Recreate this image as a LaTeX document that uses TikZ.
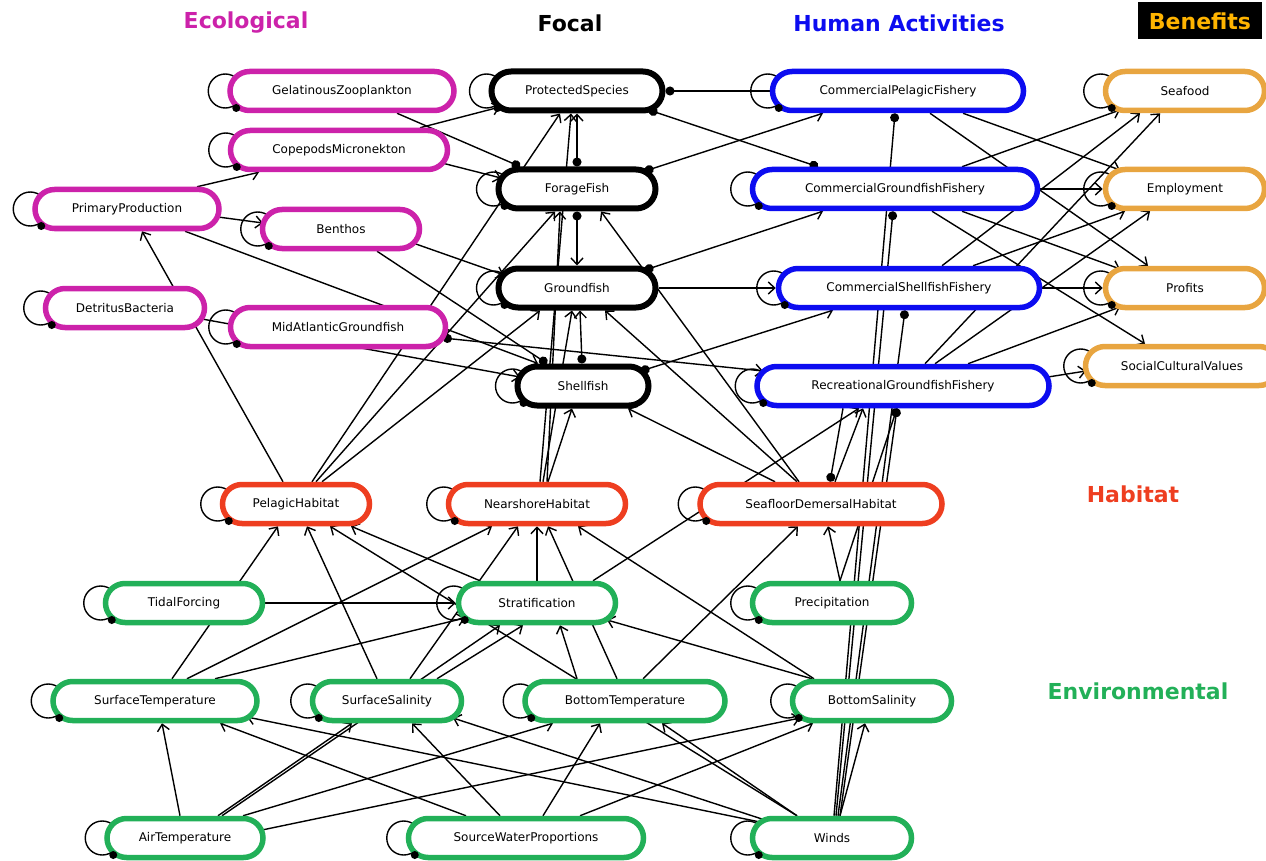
\documentclass[tikz,border=0pt]{standalone}
\usepackage{fontspec}
\setmainfont{DejaVu Sans}
\usetikzlibrary{shapes.misc,arrows.meta,backgrounds}
\definecolor{eco}{RGB}{204,34,170}
\definecolor{hum}{RGB}{12,12,240}
\definecolor{ben}{RGB}{232,165,64}
\definecolor{hab}{RGB}{238,62,32}
\definecolor{env}{RGB}{34,176,88}
\definecolor{bentitle}{RGB}{255,180,0}
\begin{document}
\begin{tikzpicture}[x=1pt,y=-1pt,
  box/.style={rounded rectangle, line width=5.5pt, fill=white, minimum height=39pt,
    inner xsep=4pt, inner ysep=2pt, font=\fontsize{12}{14}\selectfont},
  ecobox/.style={box, draw=eco},
  focbox/.style={box, draw=black, line width=6pt},
  humbox/.style={box, draw=hum},
  benbox/.style={box, draw=ben},
  habbox/.style={box, draw=hab},
  envbox/.style={box, draw=env},
  title/.style={font=\bfseries\fontsize{22}{26}\selectfont},
  posarr/.style={-{Straight Barb[length=6.5pt,width=12pt]}},
  negdot/.style={-{Circle[length=9pt]}},
  dotarr/.style={{Circle[length=9pt]}-{Straight Barb[length=6.5pt,width=12pt]}},
  dotstart/.style={{Circle[length=9pt]}-},
  dotdot/.style={{Circle[length=9pt]}-{Circle[length=9pt]}}]
\useasboundingbox (0,0) rectangle (1266,861);
\clip (0,0) rectangle (1266,861);

% group headings
\node[title, text=eco] (tEco) at (246,23) {Ecological};
\node[title, text=black] (tFoc) at (570,23) {Focal};
\node[title, text=hum] (tHum) at (899,23) {Human Activities};
\node[title, fill=black, text=bentitle, minimum width=124pt, minimum height=37pt, inner sep=0pt] (tBen) at (1200,21) {Benefits};
\node[title, text=hab] (tHab) at (1133,494) {Habitat};
\node[title, text=env] (tEnv) at (1138,691) {Environmental};

% ecological
\node[ecobox, minimum width=232pt] (GZ) at (342,91) {GelatinousZooplankton};
\node[ecobox, minimum width=225pt] (CM) at (339,150) {CopepodsMicronekton};
\node[ecobox, minimum width=192pt] (PP) at (127,209) {PrimaryProduction};
\node[ecobox, minimum width=165pt] (BE) at (341,229) {Benthos};
\node[ecobox, minimum width=167pt] (DB) at (125,308) {DetritusBacteria};
\node[ecobox, minimum width=223pt] (MA) at (338,327) {MidAtlanticGroundfish};
% focal
\node[focbox, minimum width=179pt] (PS) at (577,91) {ProtectedSpecies};
\node[focbox, minimum width=165pt] (FF) at (577,189) {ForageFish};
\node[focbox, minimum width=165pt] (GF) at (577,288) {Groundfish};
\node[focbox, minimum width=139pt] (SF) at (583,386) {Shellfish};
% human activities
\node[humbox, minimum width=259pt] (CPF) at (898,91) {CommercialPelagicFishery};
\node[humbox, minimum width=293pt] (CGF) at (895,189) {CommercialGroundfishFishery};
\node[humbox, minimum width=269pt] (CSF) at (909,288) {CommercialShellfishFishery};
\node[humbox, minimum width=300pt] (RGF) at (903,386) {RecreationalGroundfishFishery};
% benefits
\node[benbox, minimum width=167pt] (SEA) at (1185,91) {Seafood};
\node[benbox, minimum width=167pt] (EMP) at (1185,189) {Employment};
\node[benbox, minimum width=167pt] (PRO) at (1185,288) {Profits};
\node[benbox, minimum width=201pt] (SCV) at (1182,366) {SocialCulturalValues};
% habitat
\node[habbox, minimum width=155pt] (PH) at (296,504) {PelagicHabitat};
\node[habbox, minimum width=185pt] (NH) at (537,504) {NearshoreHabitat};
\node[habbox, minimum width=250pt] (SDH) at (821,504) {SeafloorDemersalHabitat};
% environmental
\node[envbox, minimum width=165pt] (TF) at (184,603) {TidalForcing};
\node[envbox, minimum width=165pt] (ST) at (537,603) {Stratification};
\node[envbox, minimum width=167pt] (PR) at (832,603) {Precipitation};
\node[envbox, minimum width=212pt] (STe) at (155,701) {SurfaceTemperature};
\node[envbox, minimum width=157pt] (SS) at (387,701) {SurfaceSalinity};
\node[envbox, minimum width=208pt] (BT) at (625,701) {BottomTemperature};
\node[envbox, minimum width=167pt] (BS) at (872,701) {BottomSalinity};
\node[envbox, minimum width=164pt] (AT) at (185,838) {AirTemperature};
\node[envbox, minimum width=243pt] (SWP) at (526,838) {SourceWaterProportions};
\node[envbox, minimum width=167pt] (WI) at (832,838) {Winds};

\begin{pgfonlayer}{background}
\begin{scope}[line width=1.4pt]
% self loops
\foreach \n in {GZ,CM,PP,BE,DB,MA,PS,FF,GF,SF,CPF,CGF,CSF,RGF,SEA,EMP,PRO,SCV,PH,NH,SDH,TF,ST,PR,STe,SS,BT,BS,AT,SWP,WI}
  \draw ([xshift=-2pt]\n.west) circle (17pt);

% ecological links
\draw[posarr] ([xshift=70pt]PP.north) -- ([xshift=-80pt]CM.south);
\draw[posarr] ([shift={(91,8)}]PP.center) -- ([shift={(-78,-6)}]BE.center);
\draw[posarr] ([xshift=-13pt]PH.north) -- ([xshift=15pt]PP.south);
\draw[posarr] ([xshift=58pt]PP.south) -- ([xshift=-45pt]SF.north);
\draw[negdot] ([xshift=36pt]BE.south) -- ([xshift=-36pt]SF.north);
\draw[posarr] ([shift={(77,11)}]DB.center) -- ([shift={(-63,-9)}]SF.center);
\draw[posarr] ([shift={(72,14)}]BE.center) -- ([shift={(-73,-13)}]GF.center);
\draw[posarr] ([shift={(103,13)}]CM.center) -- ([shift={(-76,-11)}]FF.center);
\draw[posarr] ([xshift=81pt]CM.north) -- ([shift={(-77,16)}]PS.center);
\draw[negdot] ([xshift=55pt]GZ.south) -- ([xshift=-57pt]FF.north);
\draw[dotarr] ([shift={(105,11)}]MA.center) -- ([shift={(-140,-15)}]RGF.center);

% focal links
\draw[dotarr] (FF.north) -- (PS.south);
\draw[dotarr] (FF.south) -- (GF.north);
\draw[dotarr] ([xshift=-1pt]SF.north) -- ([xshift=3pt]GF.south);
\draw[posarr] ([xshift=3pt]NH.north) -- ([xshift=-6pt]PS.south);
\draw[posarr] ([xshift=10pt]NH.north) -- ([xshift=-17pt]FF.south);
\draw[posarr] ([xshift=6pt]NH.north) -- ([xshift=-5pt]GF.south);
\draw[posarr] ([xshift=11pt]NH.north) -- ([xshift=-11pt]SF.south);
\draw[posarr] ([xshift=16pt]PH.north) -- ([xshift=-17pt]PS.south);
\draw[posarr] ([xshift=20pt]PH.north) -- ([xshift=-22pt]FF.south);
\draw[posarr] ([xshift=26pt]PH.north) -- ([xshift=-37pt]GF.south);
\draw[posarr] ([xshift=-24pt]SDH.north) -- ([xshift=28pt]GF.south);
\draw[posarr] ([xshift=-46pt]SDH.north) -- ([xshift=45pt]SF.south);
\draw[posarr] ([xshift=-22pt]SDH.north) -- ([xshift=24pt]FF.south);

% fisheries and focal groups
\draw[dotstart] (PS.east) -- (CPF.west);
\draw[dotdot] ([shift={(72,19)}]PS.center) -- ([xshift=-77pt]CGF.north);
\draw[dotarr] ([shift={(68,-18)}]FF.center) -- ([xshift=-75pt]CPF.south);
\draw[dotarr] ([shift={(68,-18)}]GF.center) -- ([xshift=-72pt]CGF.south);
\draw[posarr] (GF.east) -- (CSF.west);
\draw[dotarr] ([shift={(58,-15)}]SF.center) -- ([xshift=-76pt]CSF.south);

% fisheries and benefits
\draw[posarr] ([xshift=65pt]CPF.south) -- ([shift={(-65,-19)}]EMP.center);
\draw[posarr] ([xshift=32pt]CPF.south) -- ([xshift=-37pt]PRO.north);
\draw[posarr] ([xshift=67pt]CGF.north) -- ([shift={(-65,19)}]SEA.center);
\draw[posarr] (CGF.east) -- (EMP.west);
\draw[posarr] ([xshift=67pt]CGF.south) -- ([shift={(-65,-19)}]PRO.center);
\draw[posarr] ([xshift=37pt]CGF.south) -- ([xshift=-37pt]SCV.north);
\draw[posarr] ([xshift=33pt]CSF.north) -- ([xshift=-45pt]SEA.south);
\draw[posarr] ([xshift=64pt]CSF.north) -- ([xshift=-60pt]EMP.south);
\draw[posarr] (CSF.east) -- (PRO.west);
\draw[posarr] ([xshift=22pt]RGF.north) -- ([xshift=-25pt]SEA.south);
\draw[posarr] ([xshift=32pt]RGF.north) -- ([xshift=-35pt]EMP.south);
\draw[posarr] ([xshift=65pt]RGF.north) -- ([shift={(-65,19)}]PRO.center);
\draw[posarr] ([shift={(145,-9)}]RGF.center) -- ([shift={(-96,5)}]SCV.center);

% weather, habitat and fisheries
\draw[negdot] ([xshift=2pt]WI.north) -- ([xshift=-3pt]CPF.south);
\draw[negdot] ([xshift=4pt]WI.north) -- ([xshift=-2pt]CGF.south);
\draw[negdot] ([xshift=6pt]WI.north) -- ([xshift=-4pt]CSF.south);
\draw[negdot] ([xshift=8pt]WI.north) -- ([xshift=-6pt]RGF.south);
\draw[negdot] ([xshift=8pt]PR.north) -- ([xshift=-6pt]RGF.south);
\draw[negdot] ([xshift=-60pt]RGF.south) -- ([xshift=9pt]SDH.north);
\draw[posarr] ([xshift=14pt]SDH.north) -- ([xshift=-40pt]RGF.south);
\draw[posarr] ([xshift=56pt]ST.north) -- ([xshift=-44pt]RGF.south);
\draw[posarr] ([xshift=8pt]PR.north) -- ([xshift=7pt]SDH.south);

% environmental drivers
\draw[posarr] ([xshift=17pt]STe.north) -- ([xshift=-18pt]PH.south);
\draw[posarr] ([xshift=32pt]STe.north) -- ([xshift=-45pt]NH.south);
\draw[posarr] ([xshift=60pt]STe.north) -- ([shift={(-72,15)}]ST.center);
\draw[posarr] (TF.east) -- (ST.west);
\draw[posarr] ([xshift=-10pt]SS.north) -- ([xshift=11pt]PH.south);
\draw[posarr] ([xshift=23pt]SS.north) -- ([xshift=-19pt]NH.south);
\draw[posarr] ([xshift=50pt]SS.north) -- ([xshift=-14pt]ST.south);
\draw[posarr] ([xshift=-5pt]AT.north) -- ([xshift=7pt]STe.south);
\draw[posarr] ([xshift=33pt]AT.north) -- ([xshift=-35pt]SS.south);
\draw[posarr] ([xshift=37pt]AT.north) -- ([xshift=-37pt]ST.south);
\draw[posarr] ([xshift=58pt]AT.north) -- ([xshift=-72pt]BT.south);
\draw[posarr] ([shift={(77,-8)}]AT.center) -- ([shift={(-72,17)}]BS.center);
\draw[posarr] ([xshift=-60pt]SWP.north) -- ([xshift=65pt]STe.south);
\draw[posarr] ([xshift=-26pt]SWP.north) -- ([xshift=25pt]SS.south);
\draw[posarr] ([xshift=17pt]SWP.north) -- ([xshift=-25pt]BT.south);
\draw[posarr] ([xshift=54pt]SWP.north) -- ([xshift=-59pt]BS.south);
\draw[posarr] ([shift={(-72,-16)}]WI.center) -- ([shift={(92,16)}]STe.center);
\draw[posarr] ([shift={(-67,-18)}]WI.center) -- ([shift={(66,17)}]SS.center);
\draw[posarr] ([xshift=-35pt]WI.north) -- ([xshift=37pt]BT.south);
\draw[posarr] ([xshift=8pt]WI.north) -- ([xshift=-7pt]BS.south);
\draw[posarr] ([xshift=-35pt]WI.north) -- ([xshift=34pt]PH.south);
\draw[posarr] (ST.north) -- (NH.south);
\draw[posarr] ([xshift=-57pt]ST.north) -- ([xshift=55pt]PH.south);
\draw[posarr] ([xshift=-48pt]BT.north) -- ([xshift=23pt]ST.south);
\draw[posarr] ([xshift=-8pt]BT.north) -- ([xshift=11pt]NH.south);
\draw[posarr] ([xshift=18pt]BT.north) -- ([xshift=-23pt]SDH.south);
\draw[posarr] ([xshift=-58pt]BS.north) -- ([xshift=41pt]NH.south);
\draw[posarr] ([xshift=-60pt]BS.north) -- ([shift={(70,17)}]ST.center);
\end{scope}
\end{pgfonlayer}

% loop end markers on top of the borders
\foreach \n in {GZ,CM,PP,BE,DB,MA,PS,FF,GF,SF,CPF,CGF,CSF,RGF,SEA,EMP,PRO,SCV,PH,NH,SDH,TF,ST,PR,STe,SS,BT,BS,AT,SWP,WI}
  \fill ([shift={(9,17)}]\n.west) circle (4pt);
\end{tikzpicture}
\end{document}
